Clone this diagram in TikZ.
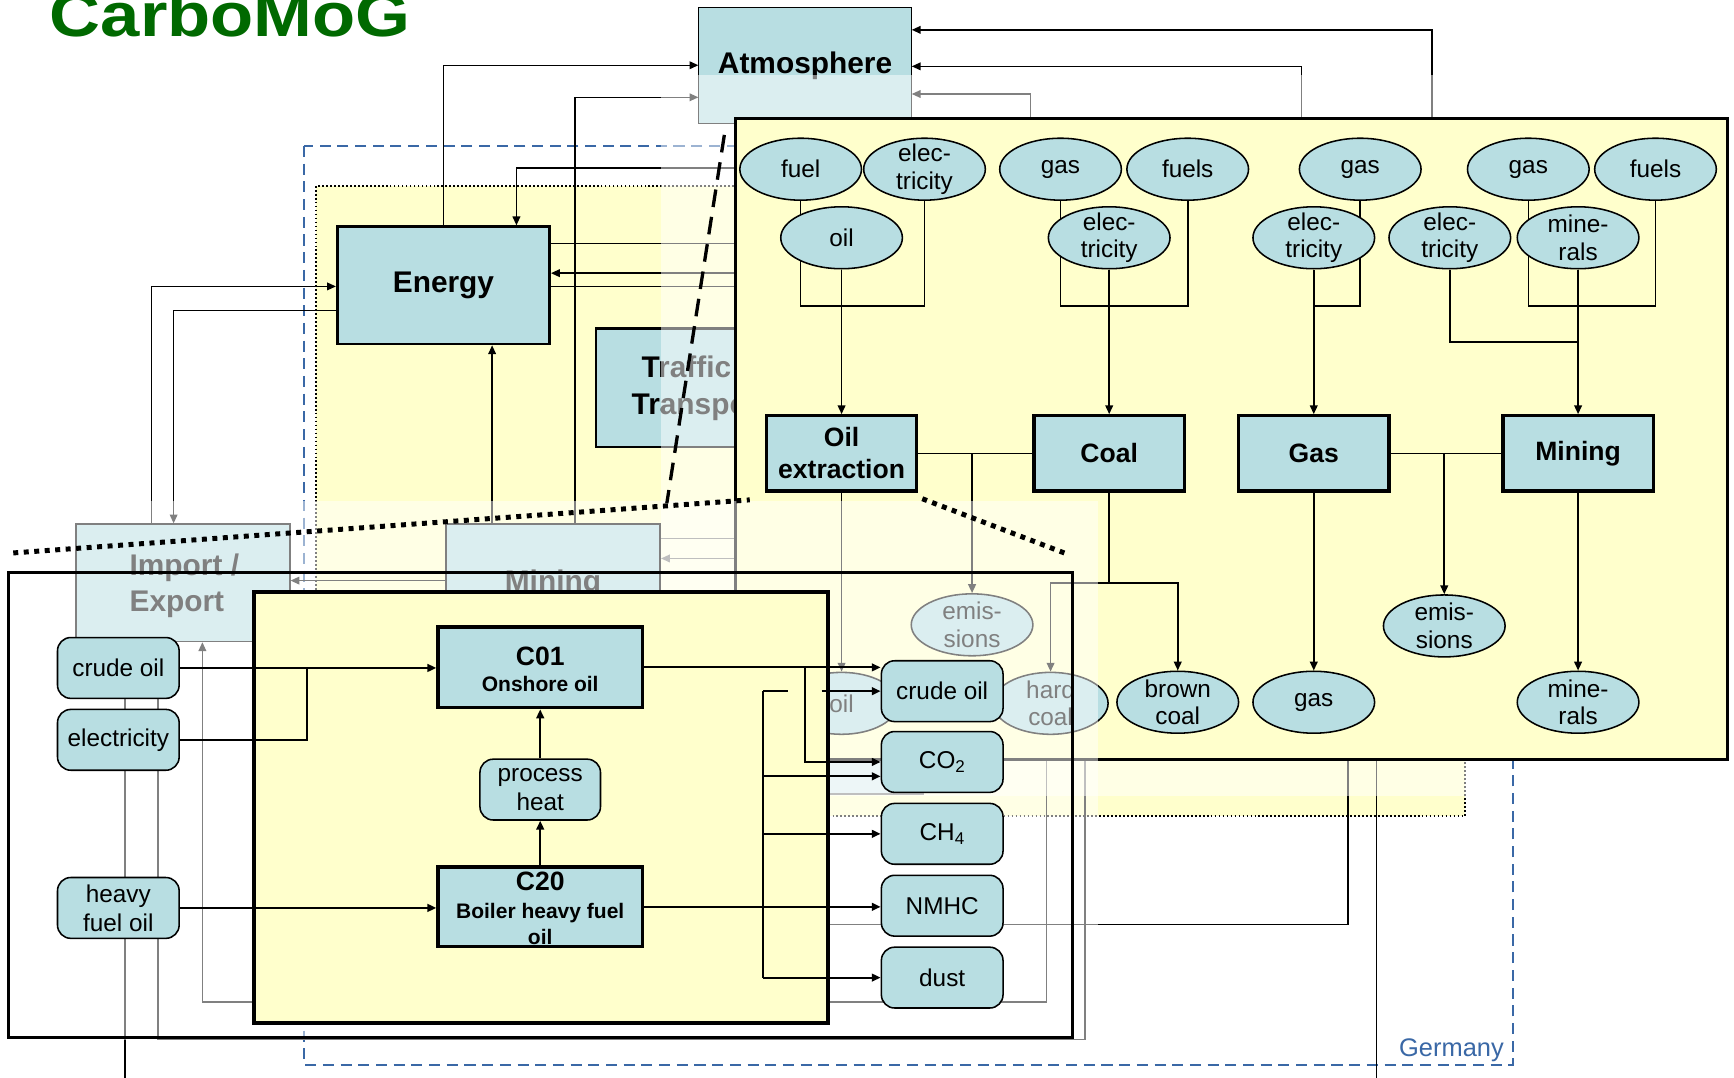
\documentclass[tikz,border=0pt]{standalone}
\usepackage{fontspec}
\setmainfont{Liberation Sans}
\usetikzlibrary{arrows.meta,shapes.geometric,calc}
\definecolor{nb}{RGB}{184,222,226}
\definecolor{ylw}{RGB}{255,255,204}
\definecolor{grn}{RGB}{0,105,0}
\definecolor{gblue}{RGB}{58,104,166}
\newcommand\fsz[2]{\fontsize{#1}{#2}\selectfont}
\pgfdeclarelayer{l0}\pgfdeclarelayer{l1}\pgfdeclarelayer{l2}\pgfdeclarelayer{l3}
\pgfdeclarelayer{l4}\pgfdeclarelayer{l5}\pgfdeclarelayer{l6}\pgfdeclarelayer{l7}
\pgfdeclarelayer{l8}\pgfdeclarelayer{l9}\pgfdeclarelayer{l10}
\pgfsetlayers{l0,l1,l2,l3,l4,l5,l6,l7,l8,l9,main,l10}
\tikzset{
 every node/.style={inner sep=0pt},
 arr/.style={-{Triangle[length=8pt,width=7pt]}},
 bgl/.style={line width=1.2pt},
 pl/.style={line width=1.5pt},
 fgl/.style={line width=1.8pt},
 ell/.style={ellipse, draw, line width=1.4pt, fill=nb, minimum width=110pt, minimum height=56pt},
 lbl/.style={align=center, font=\fsz{22}{25}},
 rbox/.style={rectangle, rounded corners=12pt, draw, line width=1.4pt, fill=nb, minimum width=110pt, minimum height=55pt, align=center, font=\fsz{22}{26}},
 pbox/.style={rectangle, draw, line width=3pt, fill=nb, minimum width=136pt, minimum height=68pt, align=center, font=\bfseries\fsz{24}{29}},
 cbox/.style={rectangle, draw, line width=3pt, fill=nb, minimum width=185pt},
 bgb/.style={rectangle, draw, fill=nb, font=\bfseries\fsz{27}{33}},
 bgt/.style={font=\bfseries\fsz{27}{33}},
}
\begin{document}
\begin{tikzpicture}[x=1pt,y=-1pt]
\useasboundingbox (0,0) rectangle (1568,974);
% ---------- background ----------
\begin{pgfonlayer}{l0}
\fill[white] (0,0) rectangle (1568,974);
\draw[gblue, line width=2pt, dash pattern=on 10pt off 6pt] (275,132) rectangle (1368,963);
\draw[fill=ylw, dotted, line width=1.6pt] (286,168) rectangle (1325,738);
\node[anchor=base east, text=gblue, font=\fsz{23}{23}] (germany) at (1360,955) {Germany};
\end{pgfonlayer}
\node[anchor=base west, text=grn, font=\bfseries\fsz{56}{56}] (title) at (45,33) {\scalebox{1.14}[1]{CarboMoG}};
\begin{pgfonlayer}{l2}
\node[bgb, line width=1pt, minimum width=192pt, minimum height=105pt] (atm) at (728,59.5) {Atmosphere};
\node[bgb, line width=2.5pt, minimum width=192pt, minimum height=106pt] (energy) at (401,258) {Energy};
\node[bgb, line width=2pt, minimum width=196pt, minimum height=107pt] (traffic) at (637,350.5) {};
\node[bgt, anchor=base west] (trA) at (580,341.5) {Traffic};
\node[bgt, anchor=base west] (trB) at (571,375) {Transport};
\node[bgb, line width=1.5pt, minimum width=193pt, minimum height=106pt] (imp) at (165.5,527) {};
\node[bgt, anchor=base west] (impA) at (117,520) {Import /};
\node[bgt, anchor=base west] (impB) at (117,553) {Export};
\node[bgb, line width=1.5pt, minimum width=194pt, minimum height=106pt] (minbg) at (500,527) {};
\node[bgt, anchor=base] (minbgt) at (500,535) {Mining};
\node[bgb, line width=1pt, minimum width=215pt, minimum height=78pt] (bgx) at (727.5,679) {};
\end{pgfonlayer}
% ---------- panel ----------
\begin{pgfonlayer}{l4}
\node[draw, line width=3pt, fill=ylw, minimum width=897pt, minimum height=580pt] (panel) at (1113.5,397) {};
\end{pgfonlayer}
\begin{pgfonlayer}{l6}
\node[ell, label={[lbl]center:fuel}] (fuelA) at (724,153) {};
\node[ell, label={[lbl]center:{elec-\\tricity}}] (elecA) at (836,153) {};
\node[ell, label={[lbl]center:gas}] (gasA) at (959,153) {};
\node[ell, label={[lbl]center:fuels}] (fuelsA) at (1074,153) {};
\node[ell, label={[lbl]center:gas}] (gasB) at (1230,153) {};
\node[ell, label={[lbl]center:gas}] (gasC) at (1382,153) {};
\node[ell, label={[lbl]center:fuels}] (fuelsB) at (1497,153) {};
\node[ell, label={[lbl]center:oil}] (oilA) at (761,215) {};
\node[ell, label={[lbl]center:{elec-\\tricity}}] (elecB) at (1003,215) {};
\node[ell, label={[lbl]center:{elec-\\tricity}}] (elecC) at (1188,215) {};
\node[ell, label={[lbl]center:{elec-\\tricity}}] (elecD) at (1311,215) {};
\node[ell, label={[lbl]center:{mine-\\rals}}] (mineA) at (1427,215) {};
\node[pbox] (oilx) at (761,410) {Oil\\extraction};
\node[pbox] (coal) at (1003,410) {Coal};
\node[pbox] (gasx) at (1188,410) {Gas};
\node[pbox] (mining) at (1427,410) {Mining};
\node[ell, minimum width=102pt, label={[lbl]center:oil}] (oilB) at (761,636) {};
\node[ell, minimum width=104pt, label={[lbl]center:{hard\\coal}}] (hard) at (950,636) {};
\node[ell, label={[lbl]center:{brown\\coal}}] (brown) at (1065,635) {};
\node[ell, label={[lbl]center:gas}] (gasD) at (1188,635) {};
\node[ell, label={[lbl]center:{mine-\\rals}}] (mineB) at (1427,635) {};
\node[ell, label={[lbl]center:{emis-\\sions}}] (emisA) at (879,565) {};
\node[ell, label={[lbl]center:{emis-\\sions}}] (emisB) at (1306,566) {};
\end{pgfonlayer}
% ---------- foreground nodes ----------
\node[rbox] (crudeL) at (107,604) {crude oil};
\node[rbox] (elecL) at (107,669) {electricity};
\node[rbox] (heavy) at (107,821) {heavy\\fuel oil};
\node[rbox, minimum width=109pt] (heat) at (488.5,714) {process\\heat};
\node[cbox, minimum height=73pt] (c01) at (488.5,603.5) {};
\node[cbox, minimum height=72pt] (c20) at (488.5,820) {};
\node[anchor=base, font=\bfseries\fsz{24}{24}] (c01a) at (488.5,601.5) {C01};
\node[anchor=base, font=\bfseries\fsz{19}{19}] (c01b) at (488.5,625) {Onshore oil};
\node[anchor=base, font=\bfseries\fsz{24}{24}] (c20a) at (488.5,805.5) {C20};
\node[anchor=base, font=\bfseries\fsz{19}{19}] (c20b) at (488.5,831) {Boiler heavy fuel};
\node[anchor=base, font=\bfseries\fsz{19}{19}] (c20c) at (488.5,854) {oil};
\node[rbox] (crudeR) at (852,625) {crude oil};
\node[rbox] (co2) at (852,689) {CO\textsubscript{2}};
\node[rbox] (ch4) at (852,754) {CH\textsubscript{4}};
\node[rbox] (nmhc) at (852,819) {NMHC};
\node[rbox] (dust) at (852,884) {dust};
\coordinate (endA) at (113,980);
\coordinate (endB) at (1245,980);
\coordinate (startC) at (690,836);
\coordinate (z1) at (12,500);
\coordinate (z2) at (678,452);
\coordinate (z3) at (834,451);
\coordinate (z4) at (965,501);
\coordinate (d1) at (655,122);
\coordinate (d2) at (603,455);
% ---------- background connectors ----------
\begin{pgfonlayer}{l1}
\draw[bgl,arr] (energy.north) |- (atm.west |- 0,59);
\draw[bgl,arr] (minbg.north -| 520,0) |- (atm.west |- 0,88);
\draw[bgl,arr] (panel.west |- 0,152) -| (energy.north -| 467,0);
\draw[bgl] (energy.east |- 0,220) -- (panel.west |- 0,220);
\draw[bgl,arr] (panel.west |- 0,247) -- (energy.east |- 0,247);
\draw[bgl] (energy.east |- 0,259) -- (panel.west |- 0,259);
\draw[bgl,arr] (imp.north -| 137,0) |- (energy.west |- 0,259);
\draw[bgl,arr] (energy.west |- 0,281) -| (imp.north -| 157,0);
\draw[bgl,arr] (minbg.north -| 445,0) -- (energy.south -| 445,0);
\draw[bgl] (minbg.east |- 0,487) -- (panel.west |- 0,487);
\draw[bgl,arr] (panel.west |- 0,505) -- (minbg.east |- 0,505);
\draw[bgl,arr] (minbg.west |- 0,525) -- (imp.east |- 0,525);
\draw[bgl,arr] (panel.north -| 932,0) |- (atm.east |- 0,85);
\draw[bgl,arr] (panel.north -| 1177,0) |- (atm.east |- 0,60);
\draw[bgl,arr] (panel.north -| 1295,0) |- (atm.east |- 0,27);
\draw[bgl,arr] (panel.south -| 946,0) |- (183,906) -- (imp.south -| 183,0);
\draw[bgl] (imp.south -| 143,0) |- (981,940) -- (panel.south -| 981,0);
\draw[bgl] (imp.south -| 113,0) -- (endA);
\draw[bgl] (startC) -| (panel.south -| 1219,0);
\draw[bgl] (panel.south -| 1245,0) -- (endB);
\end{pgfonlayer}
\begin{pgfonlayer}{l3}
\fill[white, opacity=0.5] (598,68) rectangle (1330,720);
\end{pgfonlayer}
% ---------- panel connectors ----------
\begin{pgfonlayer}{l5}
\draw[pl] (fuelA.south) |- (elecA.south |- 0,277) -- (elecA.south);
\draw[pl,arr] (oilA.south) -- (oilA.south |- oilx.north);
\draw[pl] (gasA.south) |- (fuelsA.south |- 0,277) -- (fuelsA.south);
\draw[pl,arr] (elecB.south) -- (elecB.south |- coal.north);
\draw[pl] (gasB.south) |- (elecC.south |- 0,277);
\draw[pl,arr] (elecC.south) -- (elecC.south |- gasx.north);
\draw[pl] (gasC.south) |- (fuelsB.south |- 0,277) -- (fuelsB.south);
\draw[pl,arr] (mineA.south) -- (mineA.south |- mining.north);
\draw[pl] (elecD.south) |- (mineA.south |- 0,309);
\draw[pl] (oilx.east) -- (coal.west);
\draw[pl,arr] (oilx.east -| emisA.north) -- (emisA.north);
\draw[pl] (gasx.east) -- (mining.west);
\draw[pl,arr] (gasx.east -| emisB.north) -- (emisB.north);
\draw[pl,arr] (oilx.south) -- (oilB.north);
\draw[pl] (coal.south) -- (coal.south |- 0,527);
\draw[pl,arr] (hard.north |- 0,527) -| (brown.north);
\draw[pl,arr] (coal.south |- 0,527) -| (hard.north);
\draw[pl,arr] (gasx.south) -- (gasD.north);
\draw[pl,arr] (mining.south) -- (mineB.north);
\end{pgfonlayer}
\begin{pgfonlayer}{l7}
\fill[white, opacity=0.5] (0,453) rectangle (993,940);
\end{pgfonlayer}
% ---------- foreground frames ----------
\begin{pgfonlayer}{l8}
\draw[line width=2.5pt] (8,518) rectangle (970,938);
\draw[line width=3.5pt, fill=ylw] (230,535) rectangle (749,925);
\end{pgfonlayer}
\begin{pgfonlayer}{l9}
\draw[fgl,arr] (crudeL.east) -- (c01.west |- crudeL.east);
\draw[fgl] (elecL.east) -| (crudeL.east -| 278,0);
\draw[fgl,arr] (heavy.east) -- (c20.west |- heavy.east);
\draw[fgl,arr] (c20.north) -- (heat.south);
\draw[fgl,arr] (heat.north) -- (c01.south);
\draw[fgl,arr] (c01.east) -- (crudeR.west |- c01.east);
\draw[fgl,arr] (c01.east -| 728,0) |- (co2.west);
\draw[fgl,arr] (c20.east) -- (nmhc.west |- c20.east);
\draw[fgl] (crudeR.west -| 690,0) -- (dust.west -| 690,0);
\draw[fgl] (crudeR.west -| 690,0) -- (crudeR.west -| 713,0);
\draw[fgl,arr] (crudeR.west -| 743,0) -- (crudeR.west);
\draw[fgl,arr] (690,702) -- (co2.west |- 0,702);
\draw[fgl,arr] (ch4.west -| 690,0) -- (ch4.west);
\draw[fgl,arr] (dust.west -| 690,0) -- (dust.west);
\end{pgfonlayer}
\begin{pgfonlayer}{l10}
\draw[line width=4.5pt, dash pattern=on 4.5pt off 5pt] (z1) -- (z2);
\draw[line width=4.5pt, dash pattern=on 4.5pt off 5pt] (z3) -- (z4);
\draw[line width=3pt, dash pattern=on 16pt off 9pt] (d1) -- (d2);
\end{pgfonlayer}
\end{tikzpicture}
\end{document}
